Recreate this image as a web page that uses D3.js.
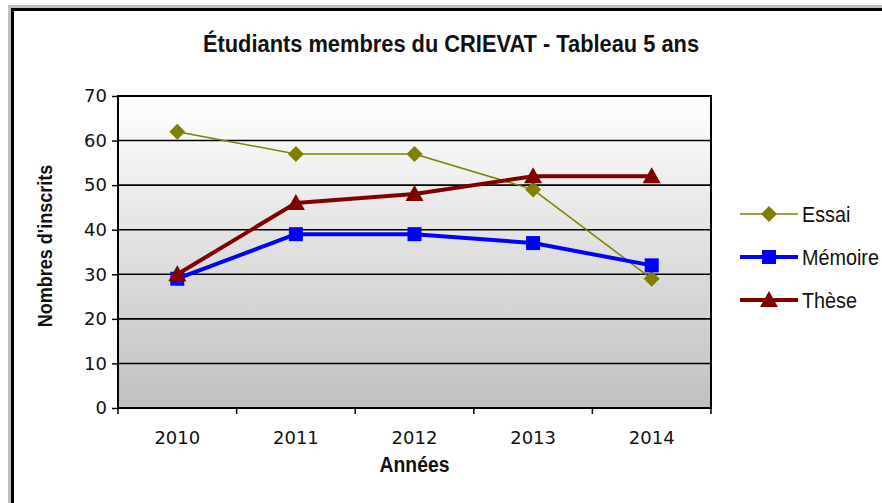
<!DOCTYPE html>
<html>
<head>
<meta charset="utf-8">
<script src="https://cdn.jsdelivr.net/npm/d3@7"></script>
<style>
  body { margin: 0; background: #fff; }
  svg { display: block; }
  .narrow { font-family: "Liberation Sans Narrow", "Arial Narrow", "Liberation Sans", Arial, sans-serif; }
</style>
</head>
<body>
<svg id="chart" width="882" height="503"></svg>
<script>
// data
const years = ["2010", "2011", "2012", "2013", "2014"];
const essai = [62, 57, 57, 49, 29];
const memoire = [29, 39, 39, 37, 32];
const these = [30, 46, 48, 52, 52];
const yTicks = [0, 10, 20, 30, 40, 50, 60, 70];

const series = [
  { name: "Essai", values: essai, color: "#808000", width: 1.5, marker: "diamond" },
  { name: "Mémoire", values: memoire, color: "#0000ff", width: 4, marker: "square" },
  { name: "Thèse", values: these, color: "#800000", width: 4, marker: "triangle" }
];

const svg = d3.select("#chart");
const margin = { top: 96, left: 118, right: 171, bottom: 95 };
const width = 882 - margin.left - margin.right;
const height = 503 - margin.top - margin.bottom;

// outer frame (only top and left edges visible)
svg.append("path").attr("d", "M9.5,503 V6.5 H882").attr("fill", "none").attr("stroke", "#c0c0c0").attr("stroke-width", 3);
svg.append("path").attr("d", "M12.5,503 V9.5 H882").attr("fill", "none").attr("stroke", "#000").attr("stroke-width", 3);

// narrow text: squeeze a normal face horizontally
function narrowText(parent, x, y, size, txt, opts = {}) {
  const sx = opts.sx || 0.88;
  const t = parent.append("text")
    .attr("class", "narrow")
    .attr("transform", `translate(${x},${y}) ${opts.rotate ? "rotate(-90)" : ""} scale(${sx},1)`)
    .attr("text-anchor", opts.anchor || "middle")
    .attr("font-size", size)
    .attr("font-weight", opts.bold ? "bold" : "normal")
    .attr("fill", "#111")
    .text(txt);
  return t;
}

narrowText(svg, 451, 52, 24, "Étudiants membres du CRIEVAT - Tableau 5 ans", { bold: true, sx: 0.91 });

const defs = svg.append("defs");
const grad = defs.append("linearGradient").attr("id", "bg").attr("x1", 0).attr("y1", 0).attr("x2", 0).attr("y2", 1);
grad.append("stop").attr("offset", "0%").attr("stop-color", "#ffffff");
grad.append("stop").attr("offset", "100%").attr("stop-color", "#c0c0c0");

const g = svg.append("g").attr("transform", `translate(${margin.left},${margin.top})`);

const x = d3.scaleBand().domain(years).range([0, width]);
const y = d3.scaleLinear().domain([0, 70]).range([height, 0]);

g.append("rect").attr("width", width).attr("height", height).attr("fill", "url(#bg)");

// gridlines
g.append("g")
  .selectAll("line")
  .data(yTicks.filter(d => d > 0))
  .join("line")
  .attr("x1", 0).attr("x2", width)
  .attr("y1", d => y(d)).attr("y2", d => y(d))
  .attr("stroke", "#000").attr("stroke-width", 1.6);

g.append("rect").attr("width", width).attr("height", height)
  .attr("fill", "none").attr("stroke", "#000").attr("stroke-width", 2);

const yAxis = g.append("g")
  .call(d3.axisLeft(y).tickValues(yTicks).tickSize(6).tickPadding(5));
yAxis.select(".domain").remove();
yAxis.selectAll(".tick line").attr("stroke", "#000").attr("stroke-width", 1.5);
yAxis.selectAll(".tick text")
  .style("font-family", "'DejaVu Sans', sans-serif").style("font-size", "18px").attr("fill", "#111");

// x axis: ticks at band boundaries, labels at centers
const xBounds = years.map(d => x(d)).concat([width]);
g.append("g").attr("transform", `translate(0,${height})`)
  .selectAll("line").data(xBounds).join("line")
  .attr("x1", d => d).attr("x2", d => d).attr("y1", 0).attr("y2", 6)
  .attr("stroke", "#000").attr("stroke-width", 1.5);

const xAxis = g.append("g").attr("transform", `translate(0,${height})`)
  .call(d3.axisBottom(x).tickSize(0).tickPadding(23));
xAxis.select(".domain").remove();
xAxis.selectAll(".tick text")
  .style("font-family", "'DejaVu Sans', sans-serif").style("font-size", "18px").attr("fill", "#111");

narrowText(svg, margin.left + width / 2, 472, 22, "Années", { bold: true });
narrowText(svg, 52, 246, 20.5, "Nombres d'inscrits", { bold: true, rotate: true });

function drawMarker(sel, type, color) {
  if (type === "diamond") {
    sel.append("path").attr("d", "M0,-8 L8,0 L0,8 L-8,0 Z").attr("fill", color);
  } else if (type === "square") {
    sel.append("rect").attr("x", -7).attr("y", -7).attr("width", 14).attr("height", 14).attr("fill", color);
  } else {
    sel.append("path").attr("d", "M0,-9 L9,7 L-9,7 Z").attr("fill", color);
  }
}

const line = d3.line().x((d, i) => x(years[i]) + x.bandwidth() / 2).y(d => y(d));

series.forEach(s => {
  g.append("path").datum(s.values)
    .attr("d", line)
    .attr("fill", "none")
    .attr("stroke", s.color)
    .attr("stroke-width", s.width)
    .attr("stroke-linejoin", "round");
  s.values.forEach((v, i) => {
    const m = g.append("g").attr("transform", `translate(${x(years[i]) + x.bandwidth() / 2},${y(v)})`);
    drawMarker(m, s.marker, s.color);
  });
});

// legend
const legend = svg.append("g").attr("transform", "translate(740,214)");
series.forEach((s, i) => {
  const row = legend.append("g").attr("transform", `translate(0,${i * 43})`);
  row.append("line").attr("x1", 0).attr("x2", 58).attr("y1", 0).attr("y2", 0)
    .attr("stroke", s.color).attr("stroke-width", s.width);
  const m = row.append("g").attr("transform", "translate(29,0)");
  drawMarker(m, s.marker, s.color);
  narrowText(row, 62, 7.5, 22, s.name, { anchor: "start", sx: 0.9 });
});
</script>
</body>
</html>
